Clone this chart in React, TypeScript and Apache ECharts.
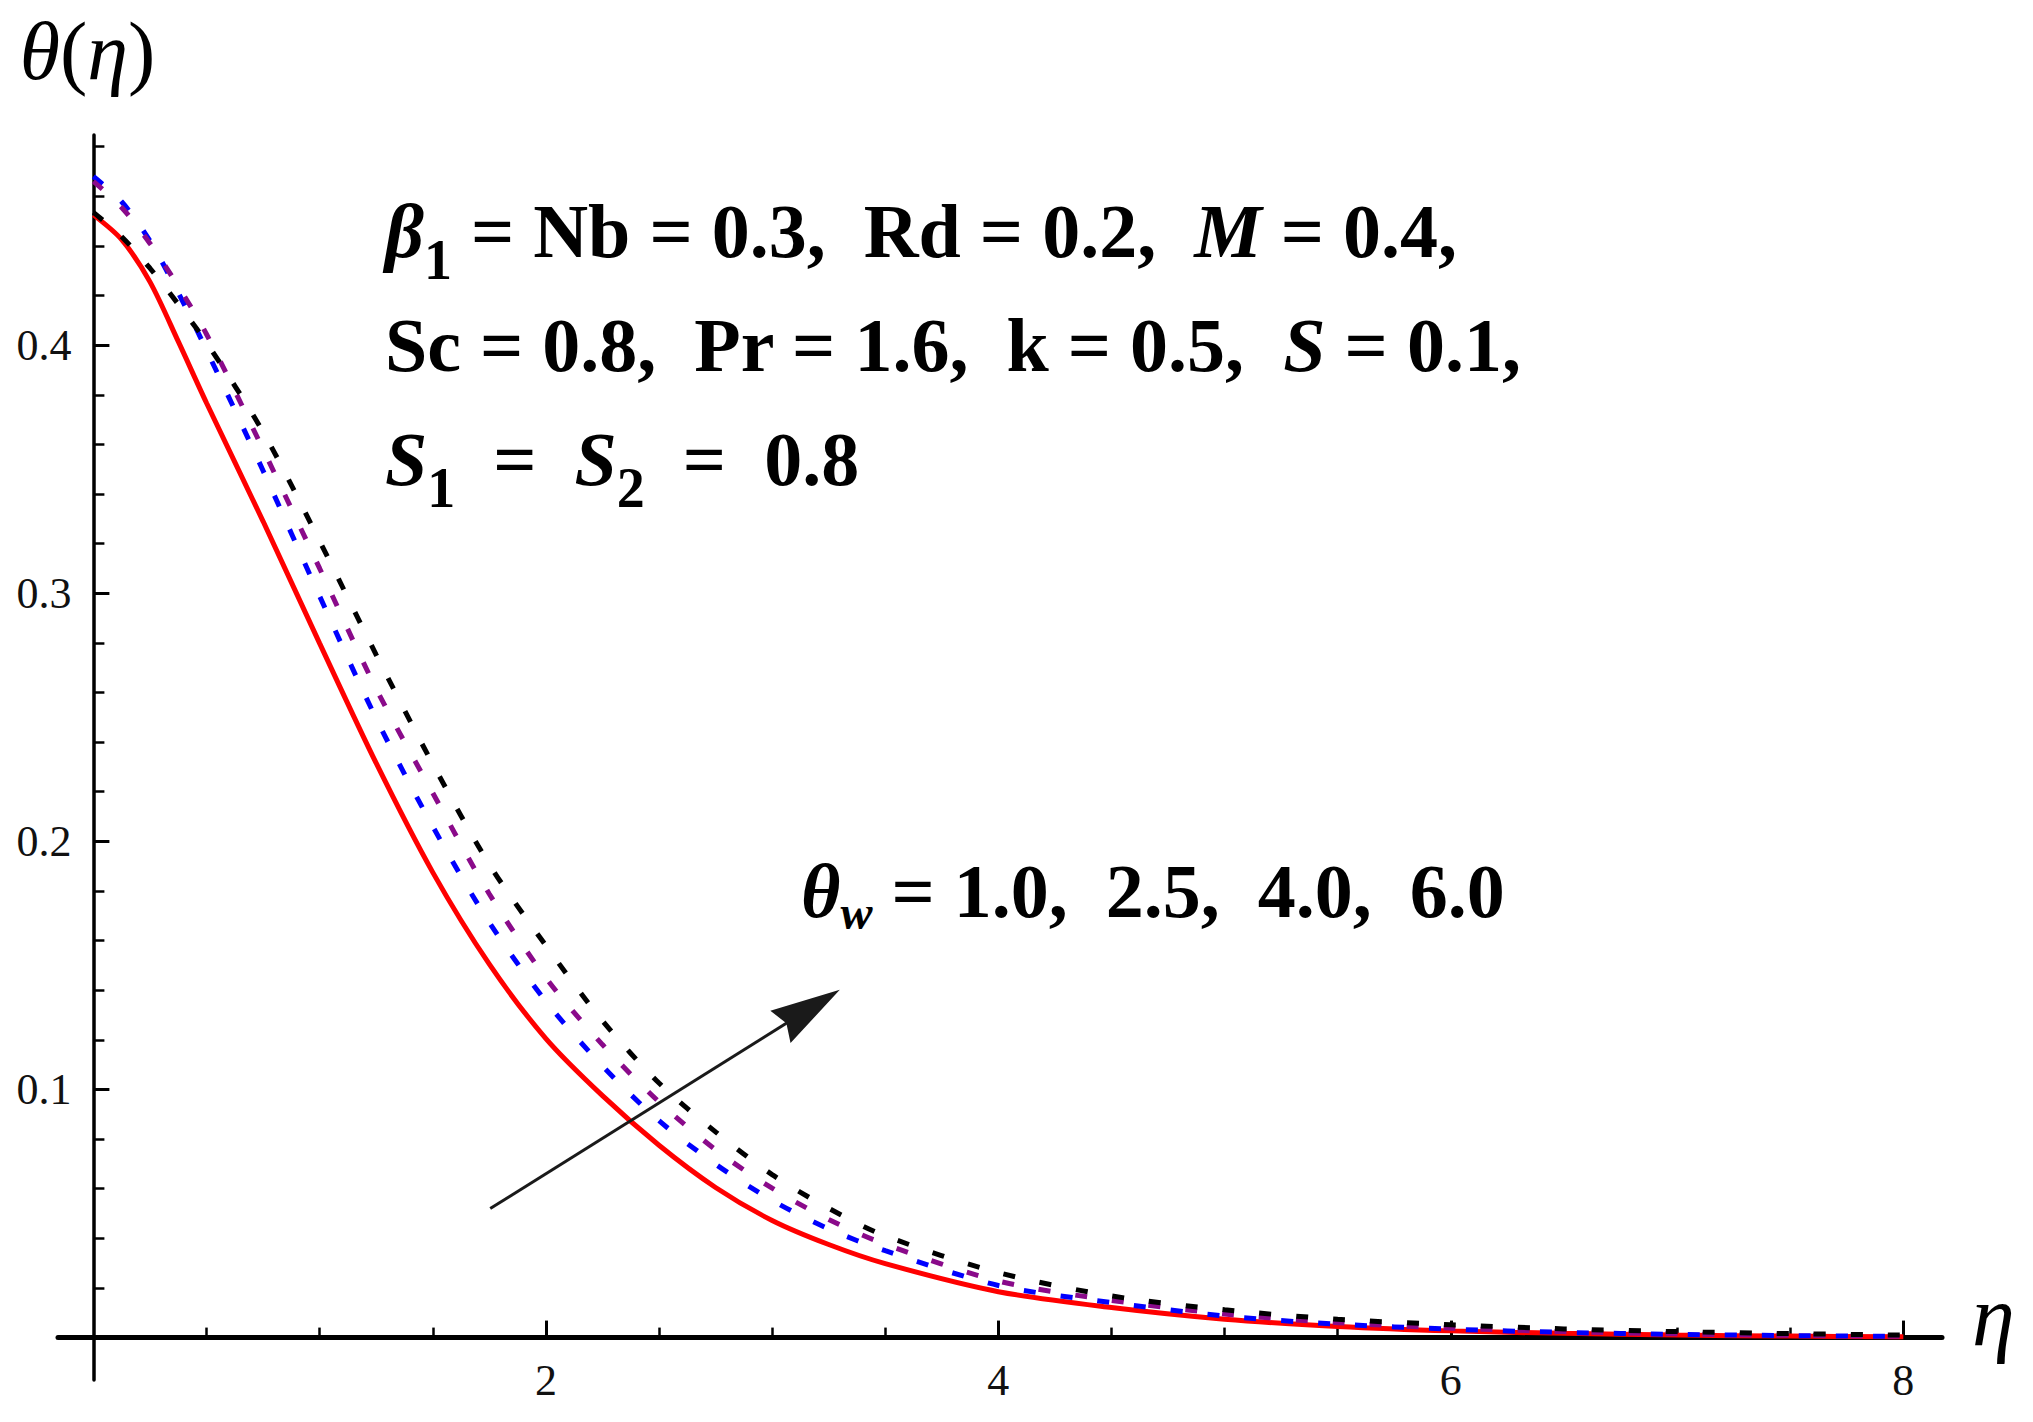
import React, { useEffect, useRef } from "react";
import * as echarts from "echarts";

// ---- data ----
const ETA = [0, 0.125, 0.25, 0.375, 0.5, 0.75, 1, 1.25, 1.5, 1.75, 2, 2.25, 2.5, 2.75, 3, 3.25, 3.5, 4, 4.5, 5, 5.5, 6, 6.5, 7, 7.5, 8];

// theta_w = 1.0 (red, solid)
const THETA_W_10 = [0.4525, 0.4425, 0.4255, 0.4015, 0.3767, 0.329, 0.2798, 0.2315, 0.1875, 0.1505, 0.1205, 0.0975, 0.0775, 0.0605, 0.0472, 0.0375, 0.0298, 0.0185, 0.0121, 0.0074, 0.0045, 0.0027, 0.0017, 0.001, 0.0006, 0.0003];
// theta_w = 2.5 (blue, dashed)
const THETA_W_25 = [0.468, 0.4578, 0.442, 0.4211, 0.398, 0.3494, 0.2988, 0.2495, 0.206, 0.1673, 0.1355, 0.1095, 0.0874, 0.0699, 0.0553, 0.0438, 0.035, 0.021, 0.0141, 0.0087, 0.0054, 0.0034, 0.0021, 0.0013, 0.0008, 0.0005];
// theta_w = 4.0 (purple, dashed)
const THETA_W_40 = [0.466, 0.4555, 0.441, 0.4237, 0.4044, 0.358, 0.31, 0.2615, 0.2195, 0.1788, 0.145, 0.1181, 0.095, 0.0757, 0.0602, 0.0476, 0.0376, 0.0228, 0.015, 0.0095, 0.006, 0.0038, 0.0024, 0.0015, 0.0009, 0.0005];
// theta_w = 6.0 (black, dashed)
const THETA_W_60 = [0.4535, 0.4437, 0.431, 0.4165, 0.401, 0.365, 0.321, 0.2752, 0.2312, 0.1907, 0.158, 0.1277, 0.1026, 0.0829, 0.0657, 0.0521, 0.041, 0.0262, 0.0168, 0.0112, 0.0074, 0.0052, 0.0035, 0.0024, 0.0016, 0.001];

const X_MAJOR = [2, 4, 6, 8];
const X_MINOR = [0.5, 1, 1.5, 2.5, 3, 3.5, 4.5, 5, 5.5, 6.5, 7, 7.5];
const Y_MAJOR = [0.1, 0.2, 0.3, 0.4];
const Y_MINOR = [0.02, 0.04, 0.06, 0.08, 0.12, 0.14, 0.16, 0.18, 0.22, 0.24, 0.26, 0.28, 0.32, 0.34, 0.36, 0.38, 0.42, 0.44, 0.46, 0.48];

const X_RANGE = [-0.1565, 8.171];
const Y_RANGE = [-0.0171, 0.4847];

// arrow annotation (data coordinates: tail, head centre)
const ARROW_FROM = [1.754, 0.052];
const ARROW_TO = [3.168, 0.1327];

const PARAM_TEXT =
  "{i|β}{s|1}{b| = Nb = 0.3,  Rd = 0.2,  }{i|M}{b| = 0.4,}\n" +
  "{b|Sc = 0.8,  Pr = 1.6,  k = 0.5,  }{i|S}{b| = 0.1,}\n" +
  "{i|S}{s|1}{b|  =  }{i|S}{s|2}{b|  =  0.8}";
const THETA_W_TEXT = "{i|θ}{si|w}{b| = 1.0,  2.5,  4.0,  6.0}";

const SERIF = "'Liberation Serif', 'Times New Roman', serif";

function pairs(ys: number[]) {
  return ETA.map((x, i) => [x, ys[i]]);
}

export default function App() {
  const ref = useRef<HTMLDivElement>(null);

  useEffect(() => {
    if (!ref.current) return;
    const chart = echarts.init(ref.current, null, { renderer: "svg" });

    const tickLabel = { fontFamily: SERIF, fontSize: 44, color: "#111" };

    const option: any = {
      animation: false,
      backgroundColor: "#ffffff",
      grid: { left: 58, right: 91, top: 135, bottom: 42, containLabel: false, outerBoundsMode: "none" },
      xAxis: [
        {
          type: "value",
          min: X_RANGE[0],
          max: X_RANGE[1],
          position: "bottom",
          name: "η",
          nameLocation: "end",
          nameGap: 30,
          nameTextStyle: {
            fontFamily: SERIF,
            fontStyle: "italic",
            fontSize: 86,
            color: "#000",
            verticalAlign: "bottom",
            lineHeight: 43,
          },
          axisLine: { onZero: true, lineStyle: { color: "#000", width: 5 } },
          axisTick: { show: true, inside: true, length: 17, customValues: X_MAJOR, lineStyle: { color: "#000", width: 3 } },
          axisLabel: { show: true, customValues: X_MAJOR, margin: -21.5, ...tickLabel, formatter: (v: number) => String(v) },
          splitLine: { show: false },
        },
        {
          type: "value",
          min: X_RANGE[0],
          max: X_RANGE[1],
          position: "bottom",
          axisLine: { show: false, onZero: true },
          axisTick: { show: true, inside: true, length: 10, customValues: X_MINOR, lineStyle: { color: "#000", width: 2.5 } },
          axisLabel: { show: false },
          splitLine: { show: false },
        },
      ],
      yAxis: [
        {
          type: "value",
          min: Y_RANGE[0],
          max: Y_RANGE[1],
          position: "left",
          name: "{i|θ}{r|(}{i|η}{r|)}",
          nameLocation: "end",
          nameGap: 43,
          nameTextStyle: {
            fontFamily: SERIF,
            fontSize: 82,
            color: "#000",
            padding: [0, 12, 0, 0],
            rich: {
              i: { fontFamily: SERIF, fontSize: 82, fontStyle: "italic", color: "#000", lineHeight: 82 },
              r: { fontFamily: SERIF, fontSize: 82, color: "#000", lineHeight: 82 },
            },
          },
          axisLine: { onZero: true, lineStyle: { color: "#000", width: 3.5 } },
          axisTick: { show: true, inside: true, length: 16, customValues: Y_MAJOR, lineStyle: { color: "#000", width: 3 } },
          axisLabel: { show: true, customValues: Y_MAJOR, margin: -13.4, ...tickLabel, formatter: (v: number) => v.toFixed(1) },
          splitLine: { show: false },
        },
        {
          type: "value",
          min: Y_RANGE[0],
          max: Y_RANGE[1],
          position: "left",
          axisLine: { show: false, onZero: true },
          axisTick: { show: true, inside: true, length: 11, customValues: Y_MINOR, lineStyle: { color: "#000", width: 2.5 } },
          axisLabel: { show: false },
          splitLine: { show: false },
        },
      ],
      series: [
        {
          name: "θw = 1.0",
          type: "line",
          data: pairs(THETA_W_10),
          showSymbol: false,
          smooth: 0.3,
          lineStyle: { color: "#ff0000", width: 5 },
          z: 2,
        },
        {
          name: "θw = 2.5",
          type: "line",
          data: pairs(THETA_W_25),
          showSymbol: false,
          smooth: 0.3,
          lineStyle: { color: "#0000ff", width: 5, type: [12, 25], cap: "butt" },
          z: 3,
        },
        {
          name: "θw = 4.0",
          type: "line",
          data: pairs(THETA_W_40),
          showSymbol: false,
          smooth: 0.3,
          lineStyle: { color: "#8a0a8a", width: 5, type: [12, 25], cap: "butt" },
          z: 4,
        },
        {
          name: "θw = 6.0",
          type: "line",
          data: pairs(THETA_W_60),
          showSymbol: false,
          smooth: 0.3,
          lineStyle: { color: "#000000", width: 5, type: [12, 25], cap: "butt" },
          z: 5,
        },
        {
          name: "arrow",
          type: "line",
          data: [],
          z: 6,
          markLine: {
            silent: true,
            animation: false,
            label: { show: false },
            lineStyle: { color: "#1a1a1a", width: 3, type: "solid" },
            data: [
              [
                { coord: ARROW_FROM, symbol: "none" },
                {
                  coord: ARROW_TO,
                  symbol: "path://M50,0 L100,100 L50,90 L0,100 Z",
                  symbolSize: [38, 70],
                  symbolKeepAspect: false,
                },
              ],
            ],
          },
        },
      ],
      graphic: [
        {
          type: "text",
          x: 385,
          y: 174,
          z: 10,
          style: {
            text: PARAM_TEXT,
            fill: "#000",
            align: "left",
            verticalAlign: "top",
            rich: {
              b: { fontFamily: SERIF, fontSize: 76, fontWeight: "bold", lineHeight: 114, fill: "#000" },
              i: { fontFamily: SERIF, fontSize: 76, fontWeight: "bold", fontStyle: "italic", lineHeight: 114, fill: "#000" },
              s: { fontFamily: SERIF, fontSize: 56, fontWeight: "bold", lineHeight: 82, verticalAlign: "bottom", fill: "#000" },
            },
          },
        },
        {
          type: "text",
          x: 801,
          y: 846,
          z: 10,
          style: {
            text: THETA_W_TEXT,
            fill: "#000",
            align: "left",
            verticalAlign: "top",
            rich: {
              b: { fontFamily: SERIF, fontSize: 76, fontWeight: "bold", lineHeight: 90, fill: "#000" },
              i: { fontFamily: SERIF, fontSize: 76, fontWeight: "bold", fontStyle: "italic", lineHeight: 90, fill: "#000" },
              si: { fontFamily: SERIF, fontSize: 48, fontWeight: "bold", fontStyle: "italic", lineHeight: 51, verticalAlign: "bottom", fill: "#000" },
            },
          },
        },
      ],
    };

    chart.setOption(option);
    return () => chart.dispose();
  }, []);

  return (
    <div
      ref={ref}
      style={{ position: "fixed", left: 0, top: 0, width: 2033, height: 1422, background: "#ffffff" }}
    />
  );
}
